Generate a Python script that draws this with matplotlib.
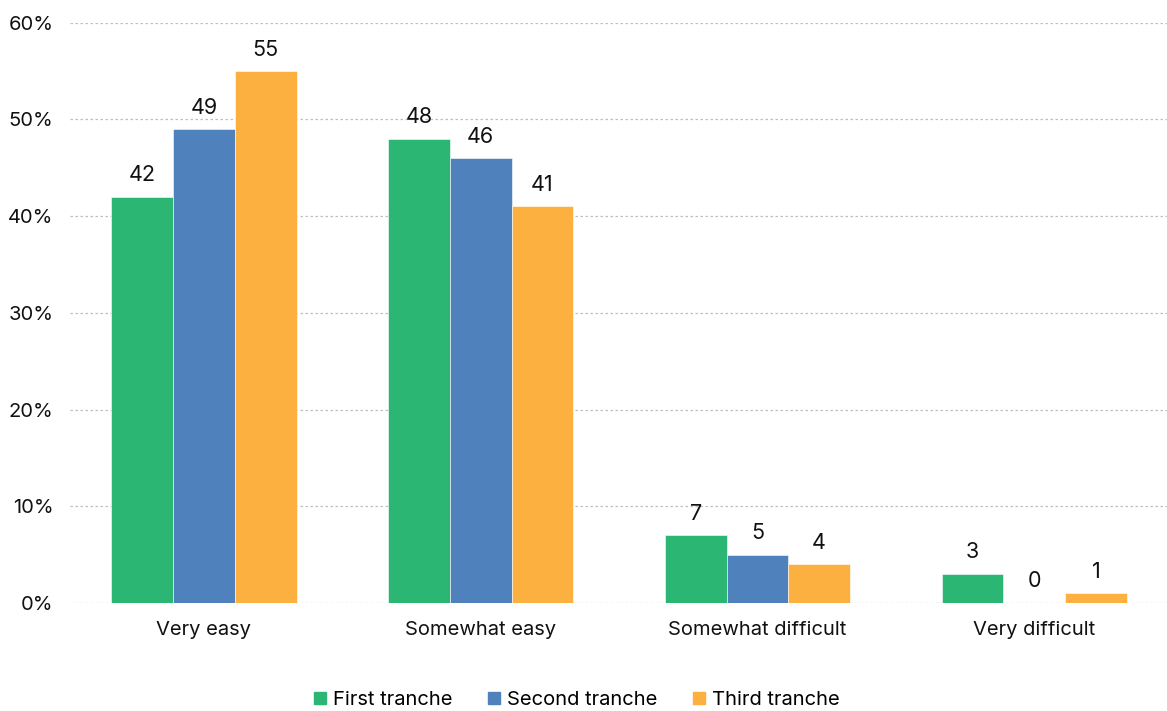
import matplotlib
matplotlib.use('Agg')
import matplotlib.pyplot as plt
from matplotlib.lines import Line2D
import numpy as np

categories = ['Very easy', 'Somewhat easy', 'Somewhat difficult', 'Very difficult']
series_names = ['First tranche', 'Second tranche', 'Third tranche']
first_tranche = [42, 48, 7, 3]
second_tranche = [49, 46, 5, 0]
third_tranche = [55, 41, 4, 1]
colors = ['#2BB673', '#4F81BD', '#FBB040']
y_ticks = [0, 10, 20, 30, 40, 50, 60]

plt.rcParams['font.family'] = ['Inter', 'DejaVu Sans']

fig = plt.figure(figsize=(11.67, 7.11), dpi=100)
ax = fig.add_axes([0.06, 0.152, 0.94, 0.816])

x = np.arange(len(categories))
width = 0.223
all_series = [first_tranche, second_tranche, third_tranche]
for i, (vals, name, c) in enumerate(zip(all_series, series_names, colors)):
    pos = x + (i - 1) * width
    ax.bar(pos, vals, width, color=c, label=name, zorder=3,
           edgecolor='white', linewidth=0.4)
    for px, v in zip(pos, vals):
        ax.annotate(str(v), (px, v), xytext=(0, 15.5), textcoords='offset points',
                    ha='center', va='center', fontsize=15.5, color='#111111')

ax.set_xlim(-0.484, 3.48)
ax.set_ylim(0, 60)
ax.set_yticks(y_ticks)
ax.set_yticklabels([f'{t}%' for t in y_ticks])
ax.set_xticks(x)
ax.set_xticklabels(categories)
ax.tick_params(axis='both', length=0, labelsize=14.5, labelcolor='#111111')
ax.tick_params(axis='y', pad=12)
ax.tick_params(axis='x', pad=13)
ax.grid(axis='y', color='#BFBFBF', linestyle=(0, (2, 2)), linewidth=0.9, zorder=0)
for s in ax.spines.values():
    s.set_visible(False)

handles = [Line2D([], [], marker='s', linestyle='none', markersize=8,
                  markerfacecolor=c, markeredgecolor=c) for c in colors]
fig.legend(handles, series_names, loc='center', bbox_to_anchor=(0.494, 0.015),
           ncol=3, frameon=False, fontsize=14.5, handletextpad=0.3,
           columnspacing=1.7, handlelength=0.7)

fig.savefig('out.png', dpi=100)
